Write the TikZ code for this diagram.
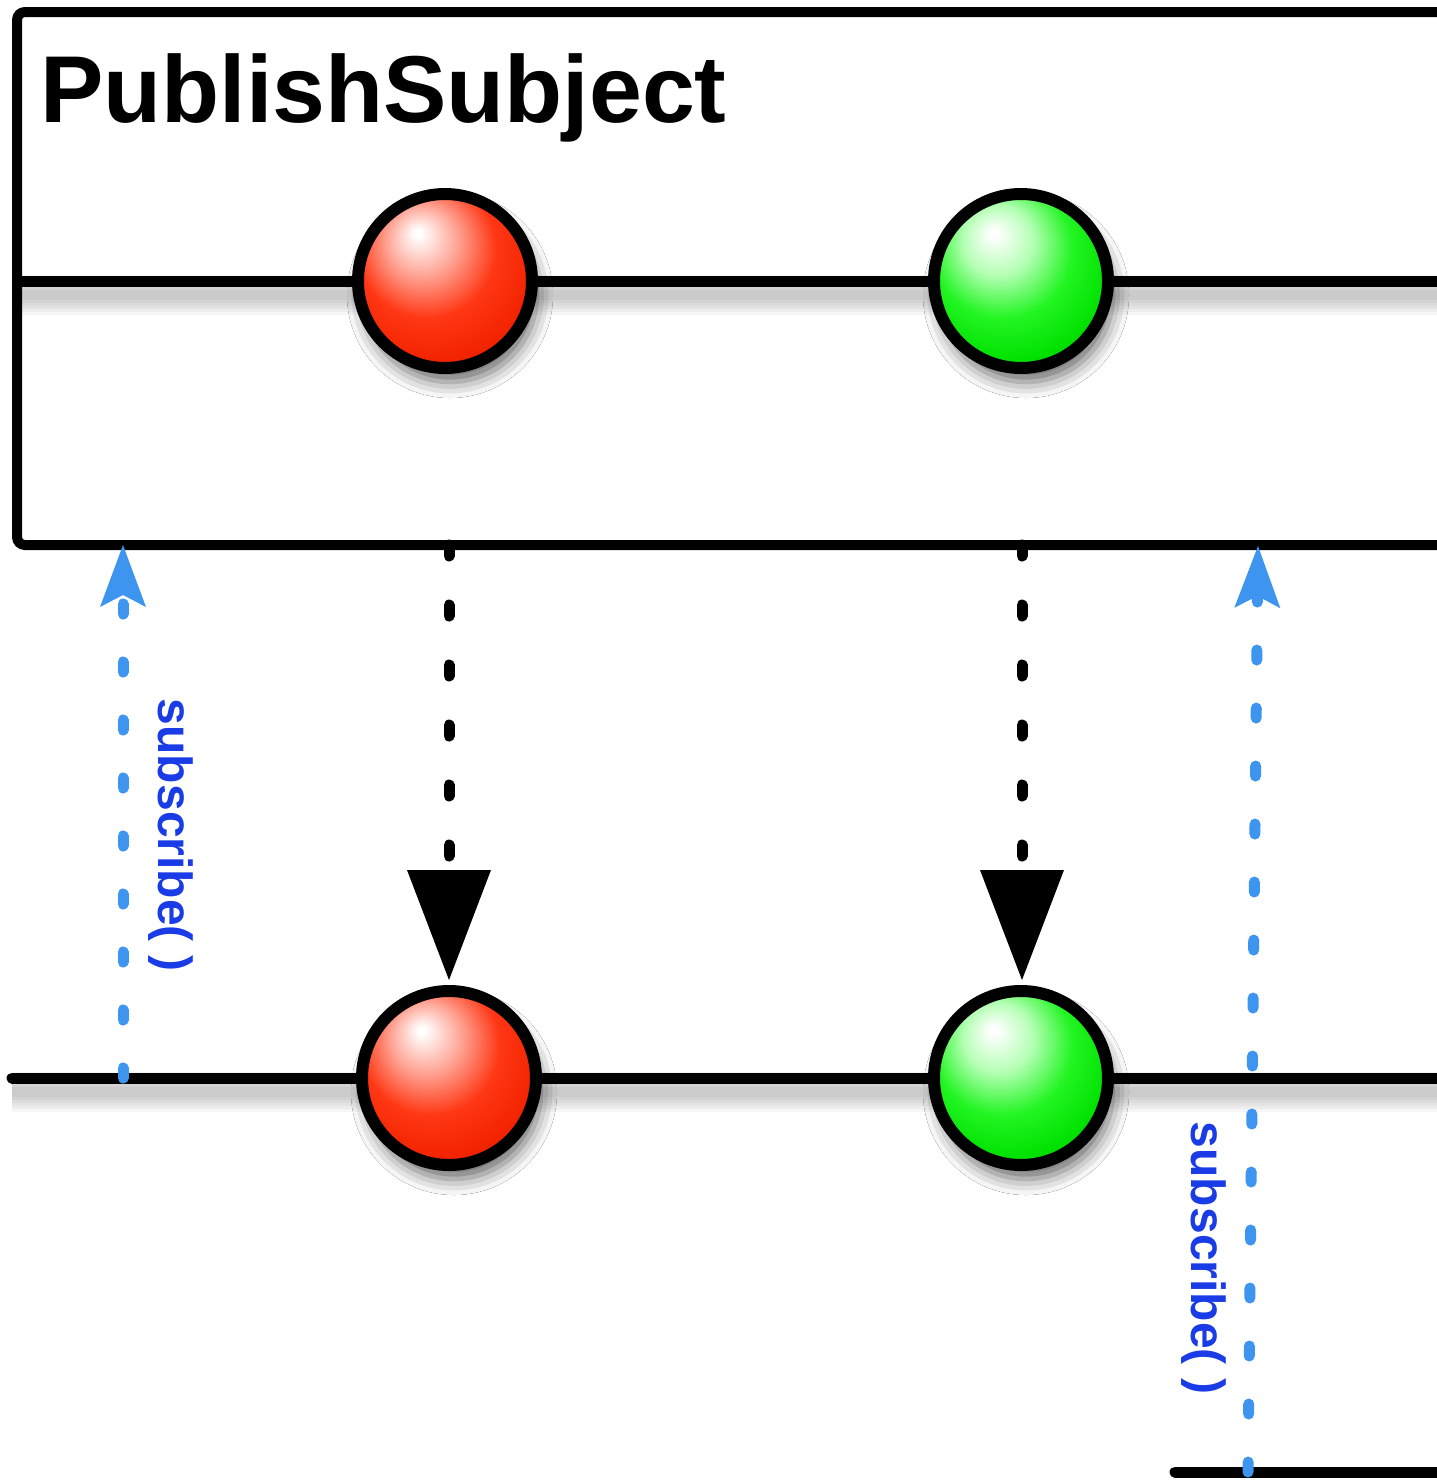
\documentclass[tikz,border=0pt]{standalone}
\usepackage{fontspec}
\setmainfont{Liberation Sans}
\usetikzlibrary{arrows.meta,shadows.blur}
\definecolor{rA}{RGB}{255,165,150}
\definecolor{rB}{RGB}{255,55,20}
\definecolor{rC}{RGB}{242,35,0}
\definecolor{rD}{RGB}{205,25,0}
\definecolor{rE}{RGB}{140,12,0}
\definecolor{gA}{RGB}{180,255,180}
\definecolor{gB}{RGB}{35,245,35}
\definecolor{gC}{RGB}{0,225,0}
\definecolor{gD}{RGB}{0,175,0}
\definecolor{gE}{RGB}{0,110,0}
\definecolor{subblue}{RGB}{61,149,239}
\definecolor{labelblue}{RGB}{25,60,230}
\pgfdeclareradialshading{redball}{\pgfpoint{-8bp}{14bp}}{color(0bp)=(white); color(1bp)=(white); color(10bp)=(rA); color(20bp)=(rB); color(30bp)=(rC); color(37bp)=(rD); color(43bp)=(rE); color(60bp)=(rE)}
\pgfdeclareradialshading{greenball}{\pgfpoint{-8bp}{14bp}}{color(0bp)=(white); color(1bp)=(white); color(10bp)=(gA); color(20bp)=(gB); color(30bp)=(gC); color(37bp)=(gD); color(43bp)=(gE); color(60bp)=(gE)}
\tikzset{
  timeline/.style={draw=black, line width=11pt, line cap=round},
  ball/.style={circle, draw=black, line width=12pt, minimum size=174pt, inner sep=0pt, outer sep=0pt,
    blur shadow={shadow xshift=5pt, shadow yshift=-14pt, shadow blur radius=16pt, shadow opacity=60}},
  redmarble/.style={ball, shading=redball},
  greenmarble/.style={ball, shading=greenball},
  emitarrow/.style={draw=black, line width=11pt, line cap=round, dash pattern=on 11pt off 49pt,
    -{Triangle[length=110pt,width=84pt,line width=0pt]}},
  subarrow/.style={draw=subblue, line width=11pt, line cap=round, dash pattern=on 10pt off 48pt,
    -{Stealth[length=62pt,width=46pt,inset=12pt,line width=0pt]}},
  sublabel/.style={rotate=-90, text=labelblue, inner sep=0pt, font=\bfseries\fontsize{48}{54}\selectfont},
}
\begin{document}
\begin{tikzpicture}[x=1pt,y=-1pt]
\clip (0,0) rectangle (1437,1483);
\fill[white] (0,0) rectangle (1437,1483);
% coordinates of the time lines
\coordinate (topA) at (17,281);
\coordinate (topB) at (1470,281);
\coordinate (botA) at (12,1078);
\coordinate (botB) at (1470,1078);
\coordinate (lowA) at (1175,1472);
\coordinate (lowB) at (1470,1472);
% soft shadows under the lines
\foreach \w in {40,34,...,10}{
  \draw[line width=\w pt, black, opacity=0.035] ([yshift=-14pt]topA) -- ([yshift=-14pt]topB);
  \draw[line width=\w pt, black, opacity=0.035] ([yshift=-14pt]botA) -- ([yshift=-14pt]botB);
}
% time lines
\draw[timeline, line cap=butt] (topA) -- (topB);
\draw[timeline] (botA) -- (botB);
\draw[timeline] (lowA) -- (lowB);
% subject box
\node[draw=black, line width=10pt, rounded corners=8pt, minimum width=1480pt, minimum height=533pt,
  anchor=north west, inner sep=0pt, outer sep=0pt] (box) at (17,12) {};
\node[anchor=base west, inner sep=0pt, font=\bfseries\fontsize{95}{100}\selectfont] (title) at (40,122) {PublishSubject};
% marbles
\node[redmarble] (r1) at (445,281) {};
\node[greenmarble] (g1) at (1021,281) {};
\coordinate (s1start) at (123,1078);
\coordinate (s2start) at (1248,1472);
\coordinate (s2end) at (1258,546);
% emission arrows
\draw[emitarrow] (box.south -| 449,0) -- (449,980) coordinate (r2top);
\draw[emitarrow] (box.south -| 1022,0) -- (1022,980) coordinate (g2top);
\node[redmarble] (r2) at (449,1078) {};
\node[greenmarble] (g2) at (1021,1078) {};
% subscribe arrows
\draw[subarrow] (s1start) -- (box.south -| s1start);
\draw[subarrow] (s2start) -- (s2end);
\node[sublabel] (l1) at (171,835) {subscribe( )};
\node[sublabel] (l2) at (1204,1258) {subscribe( )};
\end{tikzpicture}
\end{document}
